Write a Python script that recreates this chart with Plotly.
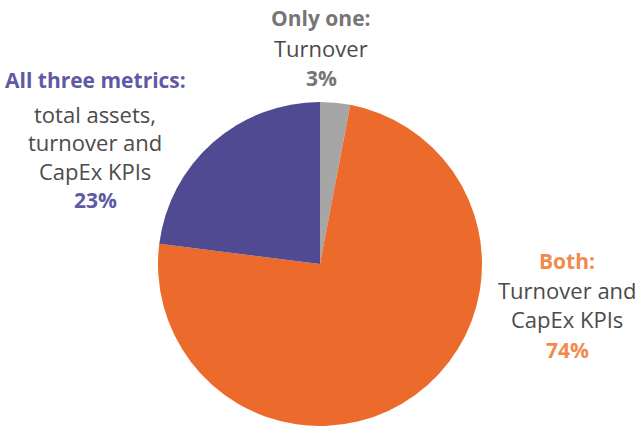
import plotly.graph_objects as go

W, H = 641, 426

categories = ["Only one: Turnover", "Both: Turnover and CapEx KPIs", "All three metrics: total assets, turnover and CapEx KPIs"]
values = [3, 74, 23]
colors = ["#A6A6A6", "#EC6A2B", "#4F4A92"]

fig = go.Figure(go.Pie(
    labels=categories,
    values=values,
    sort=False,
    direction="clockwise",
    rotation=0,
    marker=dict(colors=colors, line=dict(width=0)),
    textinfo="none",
    hoverinfo="label+percent",
    domain=dict(x=[158 / W, 482 / W], y=[0, 1 - 102 / H]),
    showlegend=False,
))

FONT = "Open Sans"
DARK = "#4B4B4B"
GRAY = "#767676"

# (text, x_px, y_px, color, bold)
lines = [
    ("Only one:", 321, 18, GRAY, True),
    ("Turnover", 321, 48, DARK, False),
    ("3%", 321, 78, GRAY, True),
    ("All three metrics:", 95, 80, "#5F5AA3", True),
    ("total assets,", 95, 114, DARK, False),
    ("turnover and", 95, 142, DARK, False),
    ("CapEx KPIs", 95, 171, DARK, False),
    ("23%", 95, 200, "#5F5AA3", True),
    ("Both:", 567, 261, "#F28A4E", True),
    ("Turnover and", 567, 290, DARK, False),
    ("CapEx KPIs", 567, 319, DARK, False),
    ("74%", 567, 350, "#F28A4E", True),
]

annotations = []
for text, xp, yp, col, bold in lines:
    annotations.append(dict(
        text=f"<b>{text}</b>" if bold else text,
        x=xp / W, y=1 - yp / H, xref="paper", yref="paper",
        xanchor="center", yanchor="middle", showarrow=False,
        font=dict(family=FONT, size=21 if bold else 22, color=col),
    ))

fig.update_layout(
    width=W, height=H,
    margin=dict(l=0, r=0, t=0, b=0),
    paper_bgcolor="white",
    plot_bgcolor="white",
    annotations=annotations,
)

fig.write_html("out.html")
